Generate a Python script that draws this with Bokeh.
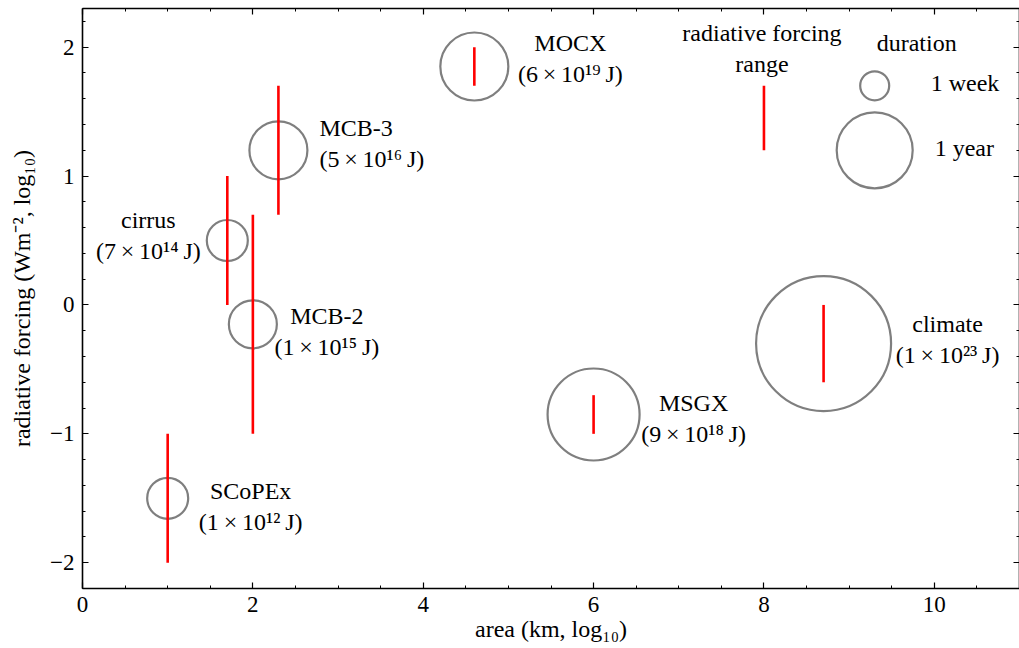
from bokeh.plotting import figure
from bokeh.models import (ColumnDataSource, LinearAxis, SingleIntervalTicker,
                          CustomJSTickFormatter, Range1d)
from bokeh.embed import file_html
from bokeh.resources import INLINE
from bokeh.core.properties import value

# ---------------- data ----------------
names = ["SCoPEx", "cirrus", "MCB-2", "MCB-3", "MOCX", "MSGX", "climate"]
energies = ["(1\u2009×\u200910¹²\u2009J)", "(7\u2009×\u200910¹⁴\u2009J)", "(1\u2009×\u200910¹⁵\u2009J)",
            "(5\u2009×\u200910¹⁶\u2009J)", "(6\u2009×\u200910¹⁹\u2009J)", "(9\u2009×\u200910¹⁸\u2009J)",
            "(1\u2009×\u200910²³\u2009J)"]
area_log = [1.0, 1.7, 2.0, 2.3, 4.6, 6.0, 8.7]
forcing_mid = [-1.5, 0.5, -0.15, 1.2, 1.85, -0.85, -0.3]
forcing_lo = [-2.0, 0.0, -1.0, 0.7, 1.7, -1.0, -0.6]
forcing_hi = [-1.0, 1.0, 0.7, 1.7, 2.0, -0.7, 0.0]
duration_px = [41, 41, 48, 58, 68, 92, 135]  # bubble diameter (duration)

legend_durations = ["1 week", "1 year"]
legend_duration_px = [29, 76]
legend_area = [9.3, 9.3]
legend_forcing = [1.7, 1.2]
legend_range_x = [8.0]
legend_range_lo = [1.2]
legend_range_hi = [1.7]

x_ticks_interval = 2
y_ticks_interval = 1

# ---------------- layout / style ----------------
FONT = "Liberation Serif"
FS = "24px"
TICK_FS = "23px"
GRAY = "#7f7f7f"
RED = "#ff0000"

label_dx = [83, -79, 74, 41, 96, 100, 124]
label_dy = [8, -5, 7.5, -7, -8, 4, -4]
label_align = ["center", "center", "center", "left", "center", "center", "center"]

p = figure(width=1019, height=646, output_backend="svg", toolbar_location=None,
           x_range=Range1d(0, 11), y_range=Range1d(-2.2, 2.3),
           min_border_left=82, min_border_right=0, min_border_top=8, min_border_bottom=58)
p.xgrid.visible = False
p.ygrid.visible = False
p.outline_line_color = None
p.background_fill_color = "white"
p.border_fill_color = "white"

minus_fmt = CustomJSTickFormatter(code="return tick < 0 ? '\\u2212' + (-tick) : '' + tick;")
blank_fmt = CustomJSTickFormatter(code="return '';")


def style_axis(ax, ticker, labels=True):
    ax.ticker = ticker
    ax.axis_line_color = "black"
    ax.axis_line_width = 1.6
    ax.major_tick_line_color = "black"
    ax.minor_tick_line_color = "black"
    ax.major_tick_line_width = 1.2
    ax.minor_tick_line_width = 1.0
    ax.major_tick_in = 6
    ax.major_tick_out = 0
    ax.minor_tick_in = 3
    ax.minor_tick_out = 0
    if labels:
        ax.formatter = minus_fmt
        ax.major_label_text_font = FONT
        ax.major_label_text_font_size = TICK_FS
        ax.major_label_text_color = "black"
        ax.major_label_standoff = 8
        ax.axis_label_text_font = FONT
        ax.axis_label_text_font_size = FS
        ax.axis_label_text_font_style = "normal"
        ax.axis_label_text_color = "black"
    else:
        ax.formatter = blank_fmt
        ax.major_label_text_font_size = "0px"
        ax.major_label_standoff = 0
        ax.axis_label = None


xt = SingleIntervalTicker(interval=x_ticks_interval, num_minor_ticks=4)
yt = SingleIntervalTicker(interval=y_ticks_interval, num_minor_ticks=5)
style_axis(p.xaxis[0], xt)
style_axis(p.yaxis[0], yt)
p.xaxis[0].axis_label = "area (km, log₁₀)"
p.yaxis[0].axis_label = "radiative forcing (Wm⁻², log₁₀)"
p.xaxis[0].axis_label_standoff = 1
p.yaxis[0].axis_label_standoff = 12

top_ax = LinearAxis()
style_axis(top_ax, SingleIntervalTicker(interval=x_ticks_interval, num_minor_ticks=4), labels=False)
p.add_layout(top_ax, "above")
right_ax = LinearAxis()
style_axis(right_ax, SingleIntervalTicker(interval=y_ticks_interval, num_minor_ticks=5), labels=False)
p.add_layout(right_ax, "right")

src = ColumnDataSource(dict(
    x=area_log, y=forcing_mid, lo=forcing_lo, hi=forcing_hi, size=duration_px,
    label=[n + "\n" + e for n, e in zip(names, energies)],
    dx=label_dx, dy=label_dy, align=label_align))

p.scatter("x", "y", size="size", source=src, marker="circle", fill_color=None,
          line_color=GRAY, line_width=2.2)
p.segment(x0="x", y0="lo", x1="x", y1="hi", source=src, line_color=RED, line_width=2.6)
p.text(x="x", y="y", text="label", x_offset="dx", y_offset="dy", text_align="align",
       text_baseline="middle", source=src, text_font=value(FONT), text_font_size=FS,
       text_color="black", text_line_height=1.2)

# legend
leg = ColumnDataSource(dict(x=legend_area, y=legend_forcing, size=legend_duration_px,
                            label=legend_durations, dx=[56, 60], dy=[-3, -2]))
p.scatter("x", "y", size="size", source=leg, marker="circle", fill_color=None,
          line_color=GRAY, line_width=2.2)
p.text(x="x", y="y", text="label", x_offset="dx", y_offset="dy", text_align="left",
       text_baseline="middle", source=leg, text_font=value(FONT), text_font_size=FS,
       text_color="black")

rng = ColumnDataSource(dict(x=legend_range_x, lo=legend_range_lo, hi=legend_range_hi,
                            label=["radiative forcing\nrange"]))
p.segment(x0="x", y0="lo", x1="x", y1="hi", source=rng, line_color=RED, line_width=2.6)
p.text(x="x", y="hi", text="label", x_offset=-2, y_offset=-37, text_align="center",
       text_baseline="middle", source=rng, text_font=value(FONT), text_font_size=FS,
       text_color="black", text_line_height=1.2)

dur = ColumnDataSource(dict(x=legend_area[:1], y=legend_forcing[:1], label=["duration"]))
p.text(x="x", y="y", text="label", x_offset=42, y_offset=-43, text_align="center",
       text_baseline="middle", source=dur, text_font=value(FONT), text_font_size=FS,
       text_color="black")

open("out.html", "w").write(file_html(p, INLINE))
